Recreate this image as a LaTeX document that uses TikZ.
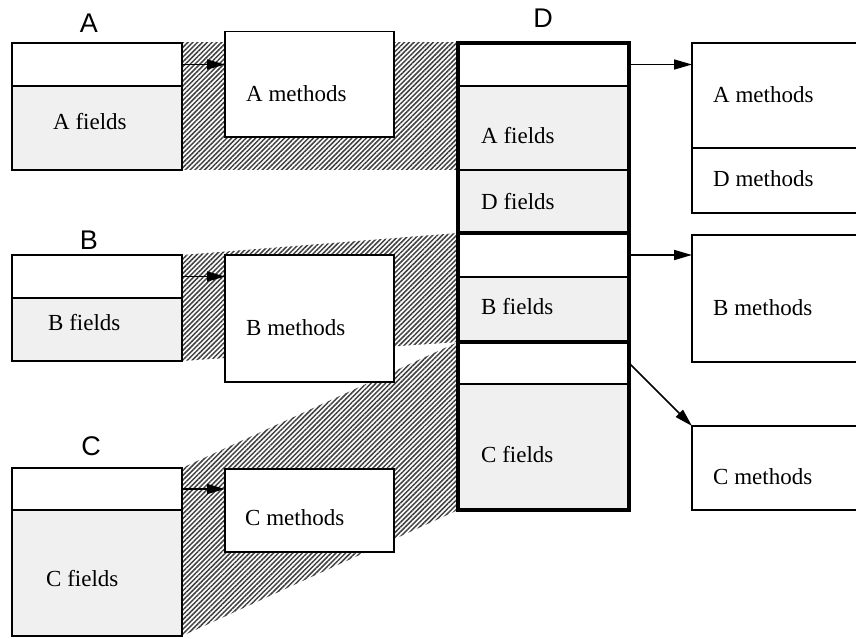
\documentclass[tikz,border=0pt]{standalone}
\usepackage{fontspec}
\setmainfont{Liberation Serif}
\newfontfamily\labelfont{Liberation Sans}
\usetikzlibrary{patterns.meta,arrows.meta,backgrounds}
\definecolor{fieldgray}{HTML}{F0F0F0}
\definecolor{hatchcol}{HTML}{404040}
\begin{document}
\begin{tikzpicture}[x=1pt,y=-1pt,
  box/.style={draw, line width=1.6pt, inner sep=0pt, outer sep=0pt, anchor=north west, fill=white},
  fbox/.style={box, fill=fieldgray},
  txt/.style={inner sep=0pt, anchor=base west, font=\fontsize{23}{26}\selectfont},
  ttl/.style={inner sep=0pt, anchor=base, font=\labelfont\fontsize{27}{30}\selectfont},
  hatch/.style={pattern={Lines[angle=45,distance=3.4pt,line width=1.5pt]}, pattern color=hatchcol},
  arr/.style={-{Triangle[length=18pt,width=10pt]}, line width=1.6pt},
  thickline/.style={line width=3.4pt}
]
\useasboundingbox (0,0) rectangle (856,639);
\clip (0,0) rectangle (856,639);

% left objects
\node[box, minimum width=170pt, minimum height=43pt] (Ahead) at (12,43) {};
\node[fbox, minimum width=170pt, minimum height=84pt] (Afields) at (12,86) {};
\node[box, minimum width=170pt, minimum height=43pt] (Bhead) at (12,255) {};
\node[fbox, minimum width=170pt, minimum height=63pt] (Bfields) at (12,298) {};
\node[box, minimum width=170pt, minimum height=42pt] (Chead) at (12,468) {};
\node[fbox, minimum width=170pt, minimum height=126pt] (Cfields) at (12,510) {};

% method tables
\node[box, minimum width=169pt, minimum height=105.5pt] (Am) at (225,31.7) {};
\node[box, minimum width=169pt, minimum height=127pt] (Bm) at (225,255) {};
\node[box, minimum width=169pt, minimum height=83pt] (Cm) at (225,469) {};

% D object
\node[box, minimum width=171pt, minimum height=43pt] (DhA) at (458,43) {};
\node[fbox, minimum width=171pt, minimum height=84pt] (DAf) at (458,86) {};
\node[fbox, minimum width=171pt, minimum height=63pt] (DDf) at (458,170) {};
\node[box, minimum width=171pt, minimum height=44pt] (DhB) at (458,233) {};
\node[fbox, minimum width=171pt, minimum height=65pt] (DBf) at (458,277) {};
\node[box, minimum width=171pt, minimum height=42pt] (DhC) at (458,342) {};
\node[fbox, minimum width=171pt, minimum height=126pt] (DCf) at (458,384) {};
\draw[thickline] (DhA.north west) rectangle (DCf.south east);
\draw[thickline] (DhB.north west) -- (DhB.north east);
\draw[thickline] (DhC.north west) -- (DhC.north east);

% right method tables
\node[box, minimum width=180pt, minimum height=105pt] (rA) at (692,43) {};
\node[box, minimum width=180pt, minimum height=65pt] (rD) at (692,148) {};
\node[box, minimum width=180pt, minimum height=127pt] (rB) at (692,235) {};
\node[box, minimum width=180pt, minimum height=84pt] (rC) at (692,426) {};

% hatched mappings
\begin{scope}[on background layer]
\fill[hatch] (Ahead.north east) -- (DhA.north west) -- (DAf.south west) -- (Afields.south east) -- cycle;
\fill[hatch] (Bhead.north east) -- (DhB.north west) -- (DBf.south west) -- (Bfields.south east) -- cycle;
\fill[hatch] (Chead.north east) -- (DhC.north west) -- (DCf.south west) -- (Cfields.south east) -- cycle;
\end{scope}

% texts
\node[ttl] (tA) at (89,33) {A};
\node[ttl] (tB) at (89,249) {B};
\node[ttl] (tC) at (91,455) {C};
\node[ttl] (tD) at (543,28) {D};

\node[txt] (t1) at (53,130) {A fields};
\node[txt] (t2) at (48,330.5) {B fields};
\node[txt] (t3) at (46,586) {C fields};
\node[txt] (t4) at (246,102) {A methods};
\node[txt] (t5) at (246,335) {B methods};
\node[txt] (t6) at (245,525) {C methods};
\node[txt] (t7) at (481,144) {A fields};
\node[txt] (t8) at (481,209) {D fields};
\node[txt] (t9) at (481,314.5) {B fields};
\node[txt] (t10) at (481,462.5) {C fields};
\node[txt] (t11) at (713,102.7) {A methods};
\node[txt] (t12) at (713,186.7) {D methods};
\node[txt] (t13) at (713,315) {B methods};
\node[txt] (t14) at (713,484) {C methods};

% arrows
\draw[arr] (Ahead.east) -- (Ahead.east -| Am.west);
\draw[arr] (Bhead.east) -- (Bhead.east -| Bm.west);
\draw[arr] (Chead.east) -- (Chead.east -| Cm.west);
\draw[arr] (DhA.east) -- (DhA.east -| rA.west);
\draw[arr] (DhB.east) -- (DhB.east -| rB.west);
\draw[arr] (DhC.east) -- (rC.north west);
\end{tikzpicture}
\end{document}
